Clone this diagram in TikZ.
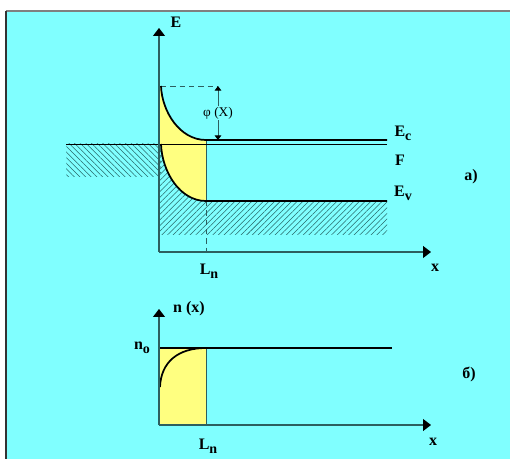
\documentclass[tikz,border=0pt]{standalone}
\usepackage{fontspec}
\setmainfont{Liberation Serif}
\usetikzlibrary{arrows.meta, patterns.meta}
\definecolor{bgCyan}{RGB}{128,255,255}
\definecolor{fillYellow}{RGB}{255,255,128}
\definecolor{axisTeal}{RGB}{45,95,95}
\definecolor{hatchTeal}{RGB}{40,105,105}
\newcommand{\lowsub}[1]{\raisebox{-0.5ex}{\fontsize{10.5}{11}\selectfont #1}}

\begin{document}
\begin{tikzpicture}[
    x=0.75pt, y=-0.75pt,
    font=\bfseries\fontsize{12}{14}\selectfont,
    axis/.style={-{Triangle[length=6pt, width=9pt, black]}, line width=0.8pt, axisTeal},
    band/.style={line width=1.3pt, black},
    level/.style={line width=0.7pt, black},
    guide/.style={dash pattern=on 4pt off 3pt, line width=0.7pt, axisTeal},
    hatchNE/.style={pattern={Lines[angle=45, distance=3pt, line width=0.4pt]}, pattern color=hatchTeal},
    hatchNW/.style={pattern={Lines[angle=-45, distance=3pt, line width=0.4pt]}, pattern color=hatchTeal},
    lab/.style={inner sep=1pt}
]
\useasboundingbox (0,0) rectangle (510,459);
% background panel
\fill[bgCyan] (6,11) rectangle (510,459);
\draw[gray, line width=1pt] (6,11) -- (510,11);
\draw[black!80, line width=1.2pt] (6,11) -- (6,459);

% a) band diagram
\coordinate (oA) at (159,252);
\coordinate (eTop) at (159,28);
\coordinate (xEndA) at (431,252);
\coordinate (cbStart) at (161,86);
\coordinate (cbEnd) at (206,140);
\coordinate (cbRight) at (387,140);
\coordinate (vbStart) at (161,144);
\coordinate (vbEnd) at (206,201);
\coordinate (vbRight) at (387,201);
\coordinate (fLeft) at (66,144);
\coordinate (fRight) at (387,144);
\coordinate (lnFoot) at (206,252);
\coordinate (phiTop) at (218,86);
\coordinate (phiBot) at (218,140);

\fill[hatchNW] (fLeft) rectangle (161,177);
\fill[hatchNE] (159,144) -- (vbStart) .. controls (162,172) and (180,201) .. (vbEnd)
    -- (vbRight) -- (387,235) -- (159,235) -- cycle;
\fill[fillYellow] (159,86) -- (cbStart) .. controls (162,112) and (180,140) .. (cbEnd)
    -- (vbEnd) .. controls (180,201) and (162,172) .. (vbStart) -- (159,144) -- cycle;
\draw[axisTeal, line width=0.7pt] (cbEnd) -- (vbEnd);
\draw[guide] (vbEnd) -- (lnFoot);
\draw[guide] (cbStart) -- (phiTop);

\draw[band] (cbStart) .. controls (162,112) and (180,140) .. (cbEnd) -- (cbRight);
\draw[band] (vbStart) .. controls (162,172) and (180,201) .. (vbEnd) -- (vbRight);
\draw[level] (fLeft) -- (fRight);

\draw[axis] (oA) -- (eTop);
\draw[axis] (oA) -- (xEndA);
\draw[{Triangle[length=3.5pt, width=5pt, black]}-{Triangle[length=3.5pt, width=5pt, black]}, line width=0.7pt, axisTeal]
    (phiTop) -- node[fill=bgCyan, inner sep=1pt, text=black, font=\normalfont\fontsize{10}{11}\selectfont] (phiLab) {φ (X)} (phiBot);

\node[lab] (eLab) at (176,22) {E};
\node[lab] (ecLab) at (403,133) {E\lowsub{c}};
\node[lab] (fLab) at (400,160) {F};
\node[lab] (evLab) at (403,193) {E\lowsub{v}};
\node[lab] (aLab) at (471,177) {a)};
\node[lab] (xLabA) at (435,268) {x};
\node[lab] (lnLabA) at (209,271) {L\lowsub{n}};

% б) carrier density
\coordinate (oB) at (159,425);
\coordinate (nTop) at (159,309);
\coordinate (xEndB) at (431,425);
\coordinate (nStart) at (160,387);
\coordinate (nEnd) at (206,348);
\coordinate (nLeft) at (159,348);
\coordinate (nRight) at (392,348);
\coordinate (lnFootB) at (206,425);

\fill[fillYellow] (nLeft) rectangle (lnFootB);
\draw[axisTeal, line width=0.7pt] (nEnd) -- (lnFootB);
\draw[level, line width=1pt] (nLeft) -- (nRight);
\draw[band] (nStart) .. controls (161,362) and (178,348) .. (nEnd);
\draw[axis] (oB) -- (nTop);
\draw[axis] (oB) -- (xEndB);

\node[lab] (nLab) at (189,309) {n (x)};
\node[lab] (noLab) at (142,348) {n\lowsub{o}};
\node[lab] (bLab) at (469,374) {б)};
\node[lab] (xLabB) at (433,442) {x};
\node[lab] (lnLabB) at (208,446) {L\lowsub{n}};
\end{tikzpicture}
\end{document}
